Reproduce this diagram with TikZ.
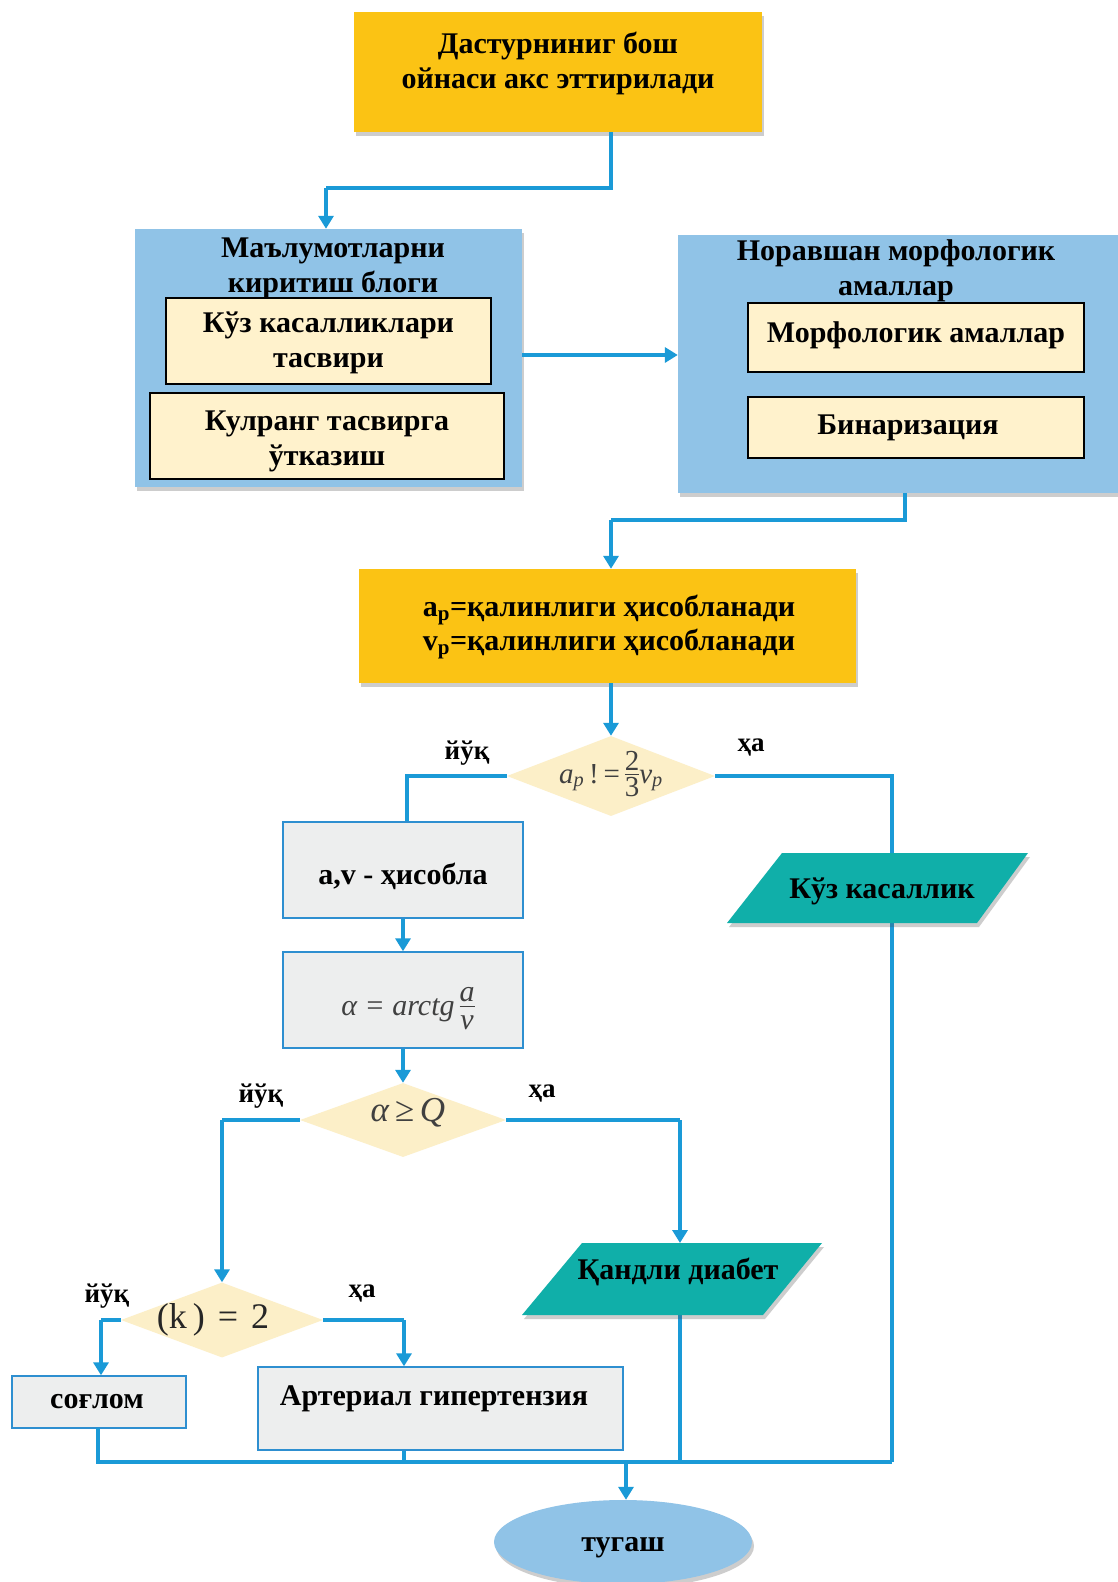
\documentclass[tikz,border=0pt]{standalone}
\usepackage{fontspec}
\setmainfont{Liberation Serif}
\usetikzlibrary{shapes.geometric,arrows.meta,shadows,positioning}
\definecolor{gold}{HTML}{FBC314}
\definecolor{skyblk}{HTML}{90C3E7}
\definecolor{cream}{HTML}{FFF2CC}
\definecolor{greybox}{HTML}{EDEEEE}
\definecolor{boxedge}{HTML}{2E8FD0}
\definecolor{diafill}{HTML}{FCEFC8}
\definecolor{tealp}{HTML}{10AFA9}
\definecolor{conncol}{HTML}{1A9AD7}
\definecolor{mathgrey}{HTML}{404040}
\newcommand{\myfrac}[2]{\begin{tabular}{@{}c@{}}#1\\[-5pt]\hline\noalign{\vskip 0pt}#2\end{tabular}}
\tikzset{
  x=1pt, y=-1pt,
  shad/.style={drop shadow={shadow xshift=2pt, shadow yshift=-4pt, opacity=0.28, fill=black!70}},
  goldbox/.style={rectangle, fill=gold, shad, inner sep=0pt},
  bluebox/.style={rectangle, fill=skyblk, shad, inner sep=0pt},
  creambox/.style={rectangle, fill=cream, draw=black, line width=1.3pt, inner sep=0pt},
  greyrect/.style={rectangle, fill=greybox, draw=boxedge, line width=1.4pt, inner sep=0pt},
  dia/.style={diamond, fill=diafill, inner sep=0pt},
  endell/.style={ellipse, fill=skyblk, shad, inner sep=0pt},
  txt/.style={font=\fontsize{30}{35}\selectfont\bfseries, align=center, inner sep=0pt},
  stxt/.style={font=\fontsize{30}{34}\selectfont\bfseries, align=center, inner sep=0pt},
  lbl/.style={font=\fontsize{27}{30}\selectfont\bfseries, inner sep=0pt},
  conn/.style={draw=conncol, line width=4pt},
  arr/.style={conn, -{Triangle[length=13pt,width=15pt]}},
}
\begin{document}
\begin{tikzpicture}
\useasboundingbox (0,0) rectangle (1118,1582);
\fill[white] (0,0) rectangle (1118,1582);

% top box
\node[goldbox, minimum width=408pt, minimum height=120pt] (start) at (558,72) {};
\node[txt] (startt) at (558,63) {Дастурниниг бош\\ойнаси акс эттирилади};

% left block
\node[bluebox, minimum width=387pt, minimum height=258pt] (inblk) at (328.5,358) {};
\node[txt] (inblkt) at (333,268) {Маълумотларни\\киритиш блоги};
\node[creambox, minimum width=325pt, minimum height=86pt] (in1) at (328.5,341) {};
\node[txt] (in1t) at (328.5,343) {Кўз касалликлари\\тасвири};
\node[creambox, minimum width=354pt, minimum height=86pt] (in2) at (327,436) {};
\node[txt] (in2t) at (327,441) {Кулранг тасвирга\\ўтказиш};

% right block
\node[bluebox, minimum width=447pt, minimum height=258pt] (mblk) at (901.5,364) {};
\node[txt] (mblkt) at (896,271) {Норавшан морфологик\\амаллар};
\node[creambox, minimum width=336pt, minimum height=69pt] (m1) at (916,337.5) {};
\node[txt] (m1t) at (916,335) {Морфологик амаллар};
\node[creambox, minimum width=336pt, minimum height=61pt] (m2) at (916,427.5) {};
\node[txt] (m2t) at (908,428) {Бинаризация};

% second gold box
\node[goldbox, minimum width=497pt, minimum height=114pt] (calc) at (607.5,626) {};
\node[stxt] (calct) at (609,627) {a\textsubscript{p}=қалинлиги ҳисобланади\\v\textsubscript{p}=қалинлиги ҳисобланади};

% diamond 1
\node[dia, minimum width=208pt, minimum height=80pt] (d1) at (611,776) {};
\node[inner sep=0pt, text=mathgrey, font=\fontsize{29}{31}\selectfont] (d1t) at (611,777) {\textit{a}\textsubscript{\textit{p}}\,!\,=\,\myfrac{2}{3}\textit{v}\textsubscript{\textit{p}}};
\node[lbl] (d1no) at (467,753) {йўқ};
\node[lbl] (d1yes) at (751,748) {ҳа};

% av box
\node[greyrect, minimum width=240pt, minimum height=96pt] (av) at (403,870) {};
\node[stxt] (avt) at (403,876) {a,v - ҳисобла};
\node[greyrect, minimum width=240pt, minimum height=96pt] (alf) at (403,1000) {};
\node[inner sep=0pt, text=mathgrey, font=\fontsize{30}{32}\selectfont\itshape] (alft) at (408,1009) {α = arctg\,\myfrac{a}{v}};

% diamond 2
\node[dia, minimum width=206pt, minimum height=74pt] (d2) at (403,1120) {};
\node[inner sep=0pt, text=mathgrey, font=\fontsize{35}{37}\selectfont\itshape] (d2t) at (408,1113) {α\,≥\,Q};
\node[lbl] (d2no) at (261,1096) {йўқ};
\node[lbl] (d2yes) at (542,1093) {ҳа};

% parallelogram 1 (Kuz kasallik)
\coordinate (p1a) at (782,853);
\coordinate (p1b) at (1028,853);
\coordinate (p1c) at (977,923);
\coordinate (p1d) at (727,923);
% parallelogram 2 (Qandli diabet)
\coordinate (p2a) at (582,1243);
\coordinate (p2b) at (822,1243);
\coordinate (p2c) at (763,1315);
\coordinate (p2d) at (522,1315);

% diamond 3
\node[dia, minimum width=202pt, minimum height=75pt] (d3) at (222,1320) {};
\node[inner sep=0pt, text=black!85, font=\fontsize{36}{38}\selectfont] (d3t) at (213,1320) {(k\,)\hspace{13pt}=\hspace{13pt}2};
\node[lbl] (d3no) at (107,1296) {йўқ};
\node[lbl] (d3yes) at (362,1293) {ҳа};

% bottom boxes
\node[greyrect, minimum width=174pt, minimum height=52pt] (healthy) at (99,1402) {};
\node[stxt] (healthyt) at (97,1402) {соғлом};
\node[greyrect, minimum width=365pt, minimum height=83pt] (hyper) at (440.5,1408.5) {};
\node[stxt] (hypert) at (434,1399) {Артериал гипертензия};

% end ellipse
\node[endell, minimum width=258pt, minimum height=84pt] (fin) at (623,1542) {};
\node[txt] (fint) at (623,1548) {тугаш};

% connectors (upper)
\coordinate (c1) at (611,188);
\coordinate (c2) at (326,188);
\draw[conn] (start.south -| c1) -- (c1) -- (c2);
\draw[arr] (c2) -- (c2 |- inblk.north);
\draw[arr] (inblk.east |- 0,355) -- (mblk.west |- 0,355);
\coordinate (c3) at (905,520);
\coordinate (c4) at (611,520);
\draw[conn] (mblk.south -| c3) -- (c3) -- (c4);
\draw[arr] (c4) -- (c4 |- calc.north);
\draw[arr] (calc.south -| d1.north) -- (d1.north);

% diamond 1 branches
\coordinate (c5) at (407,776);
\draw[conn] (d1.west) -- (c5) -- (c5 |- av.north);
\coordinate (c6) at (892,776);
\coordinate (c7) at (892,1462);

% av -> alpha -> d2
\draw[arr] (av.south) -- (alf.north);
\draw[arr] (alf.south) -- (d2.north);

% diamond 2 branches
\coordinate (c8) at (222,1120);
\draw[conn] (d2.west) -- (c8);
\draw[arr] (c8) -- (d3.north);
\coordinate (c9) at (680,1120);
\coordinate (c9b) at (680,1243);
\draw[conn] (d2.east) -- (c9);
\draw[arr] (c9) -- (c9b);

% diamond 3 branches
\coordinate (c10) at (101,1320);
\draw[conn] (d3.west) -- (c10);
\draw[arr] (c10) -- (c10 |- healthy.north);
\coordinate (c11) at (404,1320);
\draw[conn] (d3.east) -- (c11);
\draw[arr] (c11) -- (c11 |- hyper.north);

% collector
\coordinate (c12) at (98,1462);
\coordinate (c13) at (404,1462);
\coordinate (c14) at (680,1462);
\coordinate (c15) at (626,1462);
\draw[conn] (98,1428) -- (c12) -- (c7);
\draw[conn] (hyper.south -| c13) -- (c13);
\draw[conn] (680,1315) -- (c14);
\draw[conn] (d1.east) -- (c6) -- (c7);
\draw[arr] (c15) -- (c15 |- fin.north);

% parallelograms on top of lines
\fill[tealp, shad] (p1a) -- (p1b) -- (p1c) -- (p1d) -- cycle;
\node[txt] (p1t) at (882,891) {Кўз касаллик};
\fill[tealp, shad] (p2a) -- (p2b) -- (p2c) -- (p2d) -- cycle;
\node[txt] (p2t) at (678,1272) {Қандли диабет};
\end{tikzpicture}
\end{document}
